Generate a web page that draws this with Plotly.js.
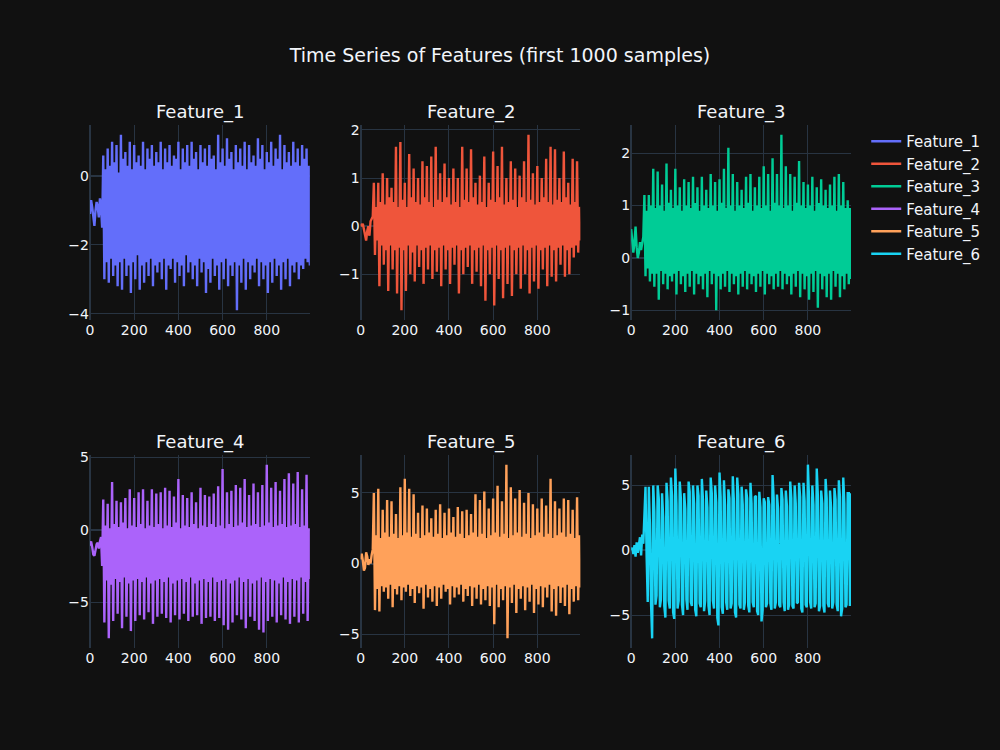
<!DOCTYPE html>
<html>
<head>
<meta charset="utf-8">
<script src="https://cdn.plot.ly/plotly-3.0.1.min.js"></script>
<style>html,body{margin:0;padding:0;background:#111111;}#chart{width:1000px;height:750px;}</style>
</head>
<body>
<div id="chart"></div>
<script>
const sampleStep = 5;
const featureNames = ["Feature_1","Feature_2","Feature_3","Feature_4","Feature_5","Feature_6"];
const colors = ["#636efa","#EF553B","#00cc96","#ab63fa","#FFA15A","#19d3f3"];
const yTickSteps = [2, 1, 1, 5, 5, 5];

const feature1 = [-1.1,-0.7,-0.9,-1.3,-1.45,-1.0,-0.75,-0.9,-1.2,-0.65,-0.9,-1.5,
0.6,-3.0,0.2,-2.5, 0.8,-3.1,0.3,-2.4, 1.0,-2.9,0.4,-2.6, 0.9,-3.2,0.1,-2.5, 1.2,-3.3,0.5,-2.4,
0.7,-2.9,0.3,-2.6, 1.0,-3.4,0.2,-2.5, 0.9,-3.0,0.4,-2.3, 0.6,-3.3,0.3,-2.6, 1.0,-3.1,0.2,-2.5,
0.8,-2.9,0.5,-2.4, 0.9,-3.2,0.3,-2.6, 0.7,-2.8,0.4,-2.5, 1.0,-3.0,0.2,-2.4, 0.8,-3.3,0.4,-2.6,
0.9,-2.7,0.3,-2.4, 0.6,-3.1,0.5,-2.5, 1.0,-2.9,0.2,-2.6, 0.8,-3.2,0.4,-2.3, 0.9,-2.8,0.3,-2.5,
1.0,-3.0,0.5,-2.6, 0.7,-3.2,0.2,-2.4, 0.9,-2.8,0.4,-2.5, 0.8,-3.4,0.3,-2.7, 0.9,-3.1,0.5,-2.4,
0.6,-2.9,0.2,-2.6, 1.2,-3.3,0.4,-2.5, 0.8,-3.0,0.3,-2.4, 1.1,-3.2,0.5,-2.6, 0.7,-2.9,0.2,-2.5,
0.9,-3.9,0.4,-2.6, 0.8,-3.1,0.3,-2.4, 1.0,-3.3,0.2,-2.5, 0.9,-3.0,0.4,-2.6, 0.6,-2.8,0.3,-2.4,
1.1,-3.2,0.5,-2.5, 0.9,-3.0,0.2,-2.6, 0.7,-3.4,0.4,-2.5, 1.0,-3.1,0.3,-2.4, 0.8,-2.9,0.5,-2.6,
1.2,-3.3,0.2,-2.5, 0.9,-3.0,0.4,-2.4, 0.7,-3.2,0.3,-2.6, 1.0,-2.8,0.4,-2.5, 0.8,-3.0,0.3,-2.6,
0.9,-2.7,0.5,-2.4, 0.8,-2.5,0.3,-2.6];

const feature2 = [0.05,0.0,0.05,-0.1,-0.25,-0.3,-0.1,0.0,-0.2,0.1,0.15,0.2,
0.9,-0.6,0.4,-0.3, 0.9,-1.25,0.5,-0.4, 1.1,-0.8,0.45,-0.5, 1.0,-1.35,0.6,-0.4, 0.8,-0.9,0.5,-0.5,
1.65,-1.4,0.4,-0.45, 1.75,-1.75,0.55,-0.5, 0.9,-1.35,0.4,-0.4, 1.5,-1.0,0.6,-0.55, 1.2,-1.15,0.5,-0.4,
1.0,-0.85,0.45,-0.5, 1.35,-1.2,0.6,-0.45, 1.25,-0.9,0.5,-0.4, 1.45,-1.1,0.4,-0.5, 1.65,-0.95,0.55,-0.45,
1.1,-1.25,0.5,-0.4, 1.3,-0.9,0.6,-0.5, 1.0,-1.2,0.45,-0.45, 1.2,-0.8,0.5,-0.4, 1.0,-1.4,0.4,-0.5,
1.65,-1.0,0.55,-0.45, 1.2,-0.85,0.5,-0.4, 1.6,-1.2,0.6,-0.5, 0.9,-0.95,0.45,-0.45, 1.05,-1.25,0.5,-0.4,
1.45,-1.55,0.4,-0.5, 0.9,-1.0,0.55,-0.45, 1.55,-1.65,0.5,-0.4, 1.25,-1.1,0.6,-0.5, 1.65,-1.5,0.45,-0.45,
1.0,-1.2,0.5,-0.4, 1.35,-1.45,0.55,-0.5, 1.2,-1.0,0.4,-0.45, 1.05,-1.3,0.6,-0.4, 1.35,-1.0,0.5,-0.5,
1.9,-1.4,0.55,-0.45, 1.1,-1.15,0.45,-0.4, 1.25,-1.3,0.5,-0.5, 1.0,-0.9,0.6,-0.45, 1.4,-1.25,0.5,-0.4,
1.65,-1.05,0.45,-0.5, 1.6,-1.15,0.55,-0.45, 1.0,-0.8,0.5,-0.4, 1.55,-1.05,0.6,-0.5, 0.9,-1.0,0.45,-0.45,
1.4,-0.65,0.5,-0.4, 1.35,-0.55,0.4,-0.3];

const feature3 = [0.55,0.35,0.1,0.3,0.6,0.2,0.0,0.1,0.3,0.15,0.25,0.4,
1.2,-0.35,0.9,-0.2, 1.2,-0.45,1.0,-0.3, 1.7,-0.55,0.95,-0.3, 1.65,-0.8,1.0,-0.25, 1.4,-0.5,0.9,-0.3,
1.8,-0.6,1.05,-0.35, 1.3,-0.45,0.95,-0.3, 1.7,-0.7,1.0,-0.25, 1.35,-0.5,0.9,-0.35, 1.5,-0.65,1.0,-0.3,
1.45,-0.55,0.95,-0.25, 1.55,-0.7,1.05,-0.3, 1.35,-0.5,0.9,-0.35, 1.55,-0.6,1.0,-0.3, 1.3,-0.75,0.95,-0.25,
1.6,-0.5,1.0,-0.3, 1.45,-1.0,0.9,-0.35, 1.5,-0.6,1.05,-0.3, 1.7,-0.55,0.95,-0.25, 2.1,-0.65,1.0,-0.3,
1.6,-0.5,0.9,-0.35, 1.45,-0.7,1.0,-0.3, 1.3,-0.55,0.95,-0.25, 1.55,-0.6,1.05,-0.3, 1.6,-0.5,0.9,-0.35,
1.35,-0.65,1.0,-0.3, 1.55,-0.55,0.95,-0.25, 1.75,-0.7,1.0,-0.3, 1.6,-0.5,0.9,-0.35, 1.9,-0.6,1.05,-0.3,
1.6,-0.55,1.0,-0.25, 2.35,-0.6,0.95,-0.3, 1.75,-0.5,1.0,-0.35, 1.6,-0.7,0.9,-0.3, 1.55,-0.55,1.05,-0.25,
1.85,-0.75,1.0,-0.3, 1.45,-0.6,0.95,-0.35, 1.4,-0.8,1.0,-0.3, 1.55,-0.65,0.9,-0.25, 1.35,-0.95,1.05,-0.3,
1.5,-0.6,1.0,-0.35, 1.3,-0.75,0.95,-0.3, 1.4,-0.8,1.0,-0.25, 1.55,-0.55,0.9,-0.3, 1.6,-0.75,1.0,-0.35,
1.45,-0.6,0.95,-0.3, 1.1,-0.5,0.95,-0.4];

const feature4 = [-1.1,-0.8,-1.2,-1.7,-1.8,-1.3,-1.0,-0.9,-1.3,-0.8,-0.5,-2.5,
2.1,-6.4,0.3,-3.5, 1.8,-7.5,0.1,-3.8, 3.3,-6.3,0.4,-3.4, 2.0,-5.8,0.2,-3.6, 1.9,-6.8,0.5,-3.3,
2.2,-6.0,0.1,-3.7, 2.8,-7.0,0.3,-3.5, 2.2,-6.3,0.2,-3.4, 2.6,-5.9,0.4,-3.6, 2.8,-6.2,0.1,-3.3,
2.0,-5.7,0.3,-3.7, 2.8,-6.5,0.2,-3.5, 2.5,-6.0,0.4,-3.4, 2.6,-5.8,0.1,-3.6, 2.9,-6.1,0.3,-3.3,
2.7,-6.4,0.2,-3.7, 2.3,-5.9,0.5,-3.5, 3.5,-6.2,0.1,-3.4, 2.4,-5.8,0.3,-3.6, 2.2,-6.3,0.2,-3.3,
2.6,-6.0,0.4,-3.7, 1.9,-5.9,0.1,-3.5, 2.9,-6.5,0.3,-3.4, 2.4,-6.1,0.2,-3.6, 2.3,-6.0,0.4,-3.3,
2.5,-6.3,0.2,-3.6, 3.0,-6.1,0.3,-3.5, 4.2,-6.6,0.1,-3.4, 2.6,-6.9,0.4,-3.7, 2.7,-6.4,0.2,-3.5,
3.1,-5.9,0.3,-3.3, 2.9,-6.2,0.5,-3.6, 3.5,-6.8,0.2,-3.4, 2.4,-6.0,0.3,-3.7, 3.2,-6.3,0.4,-3.5,
2.6,-6.9,0.2,-3.3, 3.1,-7.1,0.3,-3.6, 4.5,-6.3,0.5,-3.4, 2.9,-6.0,0.2,-3.5, 3.3,-6.4,0.3,-3.7,
2.7,-5.9,0.4,-3.3, 3.5,-6.2,0.2,-3.6, 3.9,-6.5,0.3,-3.4, 3.2,-6.0,0.4,-3.5, 4.0,-6.4,0.2,-3.3,
2.8,-5.8,0.3,-3.6, 3.8,-6.3,0.1,-3.4];

const feature5 = [0.3,0.7,0.2,-0.5,-0.3,0.8,0.5,-0.1,0.3,0.0,0.6,1.0,
5.0,-3.3,2.0,-1.8, 5.3,-3.4,1.8,-1.6, 3.8,-2.0,2.2,-1.7, 4.5,-2.5,1.9,-1.5, 4.4,-3.1,2.1,-1.8,
3.5,-2.2,1.8,-1.6, 5.4,-2.6,2.0,-1.7, 6.0,-2.0,2.2,-1.5, 5.3,-2.3,1.9,-1.8, 4.9,-2.8,2.1,-1.6,
3.6,-2.1,1.8,-1.7, 4.1,-3.2,2.0,-1.5, 3.9,-2.4,2.2,-1.8, 3.2,-2.7,1.9,-1.6, 3.8,-3.0,2.1,-1.7,
4.2,-2.5,1.8,-1.5, 3.6,-2.0,2.0,-1.8, 3.9,-2.9,2.2,-1.6, 3.3,-2.4,1.9,-1.7, 4.0,-2.2,2.1,-1.5,
3.7,-2.7,1.8,-1.8, 3.8,-2.3,2.0,-1.6, 3.5,-3.0,2.2,-1.7, 4.9,-2.5,1.9,-1.5, 4.5,-2.9,2.1,-1.8,
5.1,-2.6,1.8,-1.6, 3.9,-3.0,2.0,-1.7, 4.6,-4.3,2.2,-1.5, 5.5,-3.1,1.9,-1.8, 4.4,-2.6,2.1,-1.6,
7.0,-5.3,1.8,-1.7, 5.4,-2.8,2.0,-1.5, 4.6,-3.5,2.2,-1.8, 5.2,-2.5,1.9,-1.6, 4.3,-3.3,2.1,-1.7,
5.0,-2.7,1.8,-1.5, 4.2,-3.5,2.0,-1.8, 3.9,-2.9,2.2,-1.6, 4.6,-3.1,1.9,-1.7, 4.1,-2.4,2.1,-1.5,
6.0,-3.4,1.8,-1.8, 4.4,-3.7,2.0,-1.6, 3.9,-2.8,2.2,-1.7, 4.6,-3.0,1.9,-1.5, 4.5,-3.6,2.1,-1.8,
3.8,-2.7,1.8,-1.6, 4.7,-2.6,2.0,-1.7];

const feature6 = [0.0,0.2,-0.3,0.4,-0.5,0.6,-0.2,0.3,1.0,-0.4,1.2,0.5,
3.8,4.9,-0.5,-4.0, 4.9,2.0,-4.1,-6.8, 5.0,3.0,-4.2,-3.5, 5.0,4.0,-4.4,-3.8, 4.4,2.5,-4.3,-5.2,
5.2,3.8,-3.9,-4.5, 5.6,4.2,-4.8,-5.3, 6.3,3.5,-4.5,-3.9, 5.3,4.0,-4.2,-5.0, 4.4,3.2,-3.8,-4.6,
5.3,4.5,-4.0,-4.3, 5.0,3.6,-4.6,-5.1, 5.0,4.2,-4.1,-4.4, 5.5,3.9,-4.7,-3.9, 4.6,3.3,-4.3,-5.0,
5.6,4.4,-3.9,-4.5, 5.0,3.7,-5.2,-5.8, 6.0,4.1,-4.4,-4.9, 5.4,3.4,-4.0,-4.6, 4.7,4.0,-4.5,-4.1,
5.7,3.8,-4.8,-5.2, 5.6,4.3,-4.2,-4.5, 4.9,3.5,-4.6,-4.0, 4.7,4.0,-4.3,-4.8, 5.2,3.6,-4.0,-4.4,
4.1,4.2,-4.7,-5.0, 4.5,3.3,-5.5,-4.6, 4.0,3.7,-4.4,-4.1, 4.1,3.5,-4.1,-4.6, 5.8,4.0,-4.5,-4.0,
4.3,3.2,-4.2,-4.4, 4.8,3.9,-4.0,-4.7, 4.6,3.4,-4.6,-4.2, 5.3,4.0,-4.3,-4.5, 5.0,3.6,-4.1,-4.0,
5.2,4.1,-4.5,-4.8, 5.2,3.8,-4.2,-4.4, 6.6,4.0,-4.0,-4.5, 5.0,3.5,-4.4,-4.1, 6.3,4.2,-4.7,-4.3,
4.6,3.6,-4.3,-4.8, 5.5,4.0,-4.1,-4.4, 4.6,3.3,-4.5,-4.0, 4.8,3.9,-4.2,-4.7, 5.4,4.1,-5.1,-4.5,
5.6,3.6,-4.4,-4.2, 4.4,4.4,-4.3,4.4];

const seriesValues = [feature1, feature2, feature3, feature4, feature5, feature6];

const FONT = "DejaVu Sans, sans-serif";
const colDomains = [[0, 0.2889], [0.3556, 0.6444], [0.7111, 1]];
const rowDomains = [[0.627, 1], [0, 0.369]];

const traces = [];
const layout = {
  width: 1000, height: 750,
  paper_bgcolor: "rgb(17,17,17)", plot_bgcolor: "rgb(17,17,17)",
  font: {family: FONT, color: "#f2f5fa", size: 14},
  margin: {l: 90, r: 149, t: 125, b: 102},
  title: {text: "Time Series of Features (first 1000 samples)", x: 0.5, xanchor: "center",
          y: 1 - 55/750, yanchor: "middle", font: {size: 19, family: FONT, color: "#f2f5fa"}},
  legend: {font: {size: 15}, x: 1.02, y: 1, xanchor: "left", yanchor: "top", tracegroupgap: 0},
  showlegend: true,
  annotations: []
};

seriesValues.forEach((vals, i) => {
  const r = Math.floor(i / 3), c = i % 3;
  const n = i + 1;
  const sfx = n === 1 ? "" : String(n);
  const xs = vals.map((_, k) => k * sampleStep);
  traces.push({
    type: "scatter", mode: "lines", name: featureNames[i],
    x: xs, y: vals, xaxis: "x" + sfx, yaxis: "y" + sfx,
    line: {color: colors[i], width: 2.4}
  });
  const axStyle = {gridcolor: "#283442", zerolinecolor: "#283442", zerolinewidth: 2,
                   showline: false, ticks: "", automargin: false,
                   tickfont: {size: 14}};
  layout["xaxis" + sfx] = Object.assign({}, axStyle,
      {domain: colDomains[c], anchor: "y" + sfx, dtick: 200, tick0: 0});
  layout["yaxis" + sfx] = Object.assign({}, axStyle,
      {domain: rowDomains[r], anchor: "x" + sfx, dtick: yTickSteps[i], tick0: 0});
  layout.annotations.push({
    text: featureNames[i], xref: "paper", yref: "paper",
    x: (colDomains[c][0] + colDomains[c][1]) / 2, y: rowDomains[r][1],
    xanchor: "center", yanchor: "bottom", showarrow: false,
    font: {size: 18, family: FONT, color: "#f2f5fa"}
  });
});

Plotly.newPlot("chart", traces, layout, {displayModeBar: false});
</script>
</body>
</html>
